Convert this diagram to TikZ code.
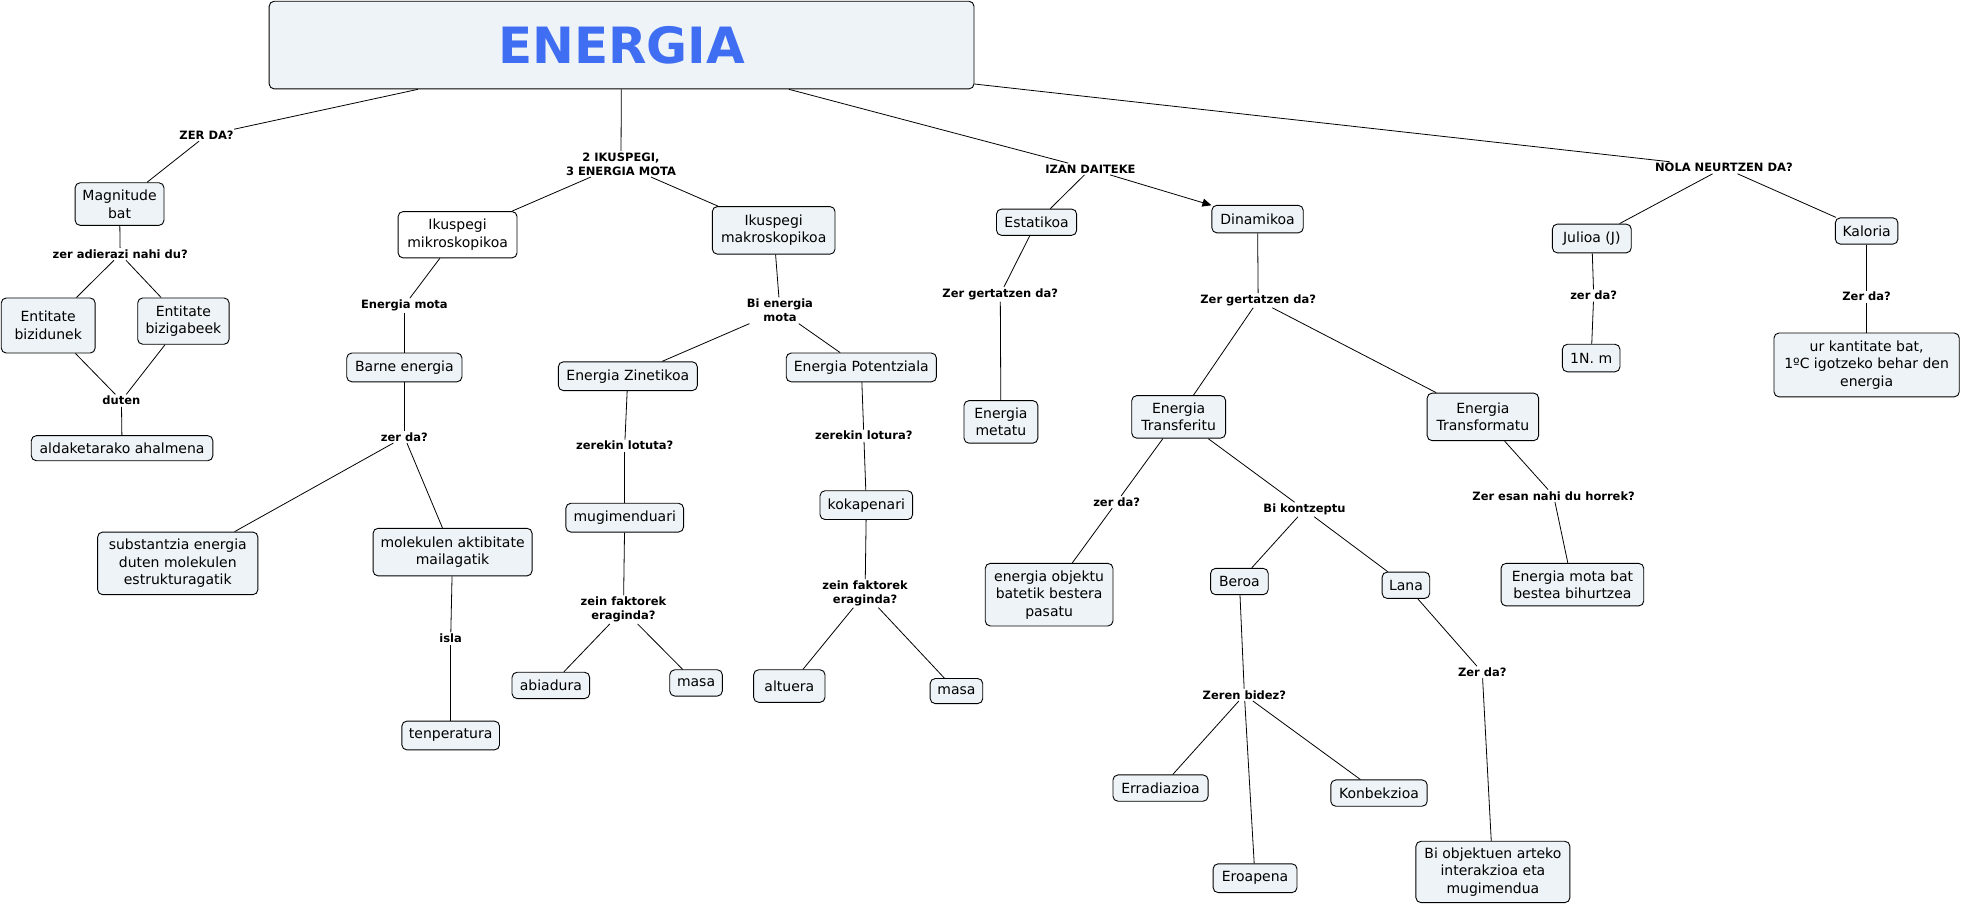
\documentclass[tikz,border=0pt]{standalone}
\usepackage{fontspec}
\setmainfont{DejaVu Sans}
\usetikzlibrary{arrows.meta}
\definecolor{cfill}{HTML}{EDF3F6}
\definecolor{ttl}{HTML}{3F6EF2}
\tikzset{
 concept/.style={draw=black, line width=0.9pt, rounded corners=5pt, fill=cfill, align=center, font=\fontsize{14}{17.5}\selectfont, inner sep=2pt},
 bx/.style 2 args={minimum width=#1*1.252pt, minimum height=#2*1.252pt},
 lbl/.style={align=center, font=\bfseries\fontsize{11.5}{14}\selectfont, inner sep=1.5pt},
 conn/.style={draw=black, line width=0.8pt},
}
\begin{document}
\begin{tikzpicture}[x=1.252pt, y=-1.252pt]
\useasboundingbox (0,0) rectangle (1568,724.5);
% title
\node[concept, bx={563}{70}, font=\bfseries\fontsize{50}{56}\selectfont, text=ttl] (energia) at (496.5,36) {ENERGIA};
% labels
\node[lbl] (l-zerda) at (165,108) {ZER DA?};
\node[lbl] (l-2ik) at (496,131) {2 IKUSPEGI,\\3 ENERGIA MOTA};
\node[lbl] (l-izan) at (871,135) {IZAN DAITEKE};
\node[lbl] (l-nola) at (1377,134) {NOLA NEURTZEN DA?};
\node[lbl] (l-adier) at (96,203) {zer adierazi nahi du?};
\node[lbl] (l-duten) at (97,320) {duten};
\node[lbl] (l-emota) at (323,244) {Energia mota};
\node[lbl] (l-zerda2) at (323,349) {zer da?};
\node[lbl] (l-isla) at (360,510) {isla};
\node[lbl] (l-bien) at (623,248) {Bi energia\\mota};
\node[lbl] (l-lotuta) at (499,356) {zerekin lotuta?};
\node[lbl] (l-fakt1) at (498,487) {zein faktorek\\eraginda?};
\node[lbl] (l-lotura) at (690,348) {zerekin lotura?};
\node[lbl] (l-fakt2) at (691,474) {zein faktorek\\eraginda?};
\node[lbl] (l-gert1) at (799,235) {Zer gertatzen da?};
\node[lbl] (l-gert2) at (1005,240) {Zer gertatzen da?};
\node[lbl] (l-zerda3) at (892,401) {zer da?};
\node[lbl] (l-bikon) at (1042,407) {Bi kontzeptu};
\node[lbl] (l-esan) at (1241,396) {Zer esan nahi du horrek?};
\node[lbl] (l-bidez) at (994,555) {Zeren bidez?};
\node[lbl] (l-zerda4) at (1184,537) {Zer da?};
\node[lbl] (l-zerda5) at (1273,236) {zer da?};
\node[lbl] (l-zerda6) at (1491,237) {Zer da?};
% concepts
\node[concept, bx={71}{34}] (mag) at (95.5,163) {Magnitude\\bat};
\node[concept, bx={75}{44}] (ebiz) at (38.5,260) {Entitate\\bizidunek};
\node[concept, bx={73}{37}] (ebizg) at (146.5,256.5) {Entitate\\bizigabeek};
\node[concept, bx={145}{20}] (alda) at (97.5,358) {aldaketarako ahalmena};
\node[concept, bx={95}{37}, fill=white] (mikro) at (365.5,187.5) {Ikuspegi\\mikroskopikoa};
\node[concept, bx={92}{23}] (barne) at (323,293.5) {Barne energia};
\node[concept, bx={128}{50}] (subst) at (142,450) {substantzia energia\\duten molekulen\\estrukturagatik};
\node[concept, bx={127}{38}] (molek) at (361.5,441) {molekulen aktibitate\\mailagatik};
\node[concept, bx={78}{23}] (tenp) at (360,587.5) {tenperatura};
\node[concept, bx={98}{38}] (makro) at (618,184) {Ikuspegi\\makroskopikoa};
\node[concept, bx={111}{23}] (zine) at (501.5,300.5) {Energia Zinetikoa};
\node[concept, bx={120}{23}] (pot) at (688,293.5) {Energia Potentziala};
\node[concept, bx={94}{23}] (mugi) at (499,413.5) {mugimenduari};
\node[concept, bx={74}{23}] (koka) at (692,403.5) {kokapenari};
\node[concept, bx={62}{21}] (abia) at (440,547.5) {abiadura};
\node[concept, bx={42}{21}] (masa1) at (556,545.5) {masa};
\node[concept, bx={57}{26}] (altu) at (630.5,548) {altuera};
\node[concept, bx={42}{20}] (masa2) at (764,552) {masa};
\node[concept, bx={64}{21}] (esta) at (828,177.5) {Estatikoa};
\node[concept, bx={73}{22}] (dina) at (1004.5,175) {Dinamikoa};
\node[concept, bx={59}{34}] (meta) at (799.5,337) {Energia\\metatu};
\node[concept, bx={75}{34}] (trsf) at (941.5,333) {Energia\\Transferitu};
\node[concept, bx={89}{38}] (trfm) at (1184.5,333) {Energia\\Transformatu};
\node[concept, bx={102}{50}] (eobj) at (838,475) {energia objektu\\batetik bestera\\pasatu};
\node[concept, bx={46}{21}] (bero) at (990,464.5) {Beroa};
\node[concept, bx={38}{21}] (lana) at (1123,467.5) {Lana};
\node[concept, bx={114}{34}] (emb) at (1256,467) {Energia mota bat\\bestea bihurtzea};
\node[concept, bx={76}{21}] (erra) at (927,629.5) {Erradiazioa};
\node[concept, bx={77}{21}] (konb) at (1101.5,633.5) {Konbekzioa};
\node[concept, bx={67}{23}] (eroa) at (1002.5,701.5) {Eroapena};
\node[concept, bx={123}{49}] (biobj) at (1192.5,696.5) {Bi objektuen arteko\\interakzioa eta\\mugimendua};
\node[concept, bx={63}{23}] (jul) at (1271.5,190.5) {Julioa (J)};
\node[concept, bx={50}{21}] (kal) at (1491,184.5) {Kaloria};
\node[concept, bx={46}{22}] (nm) at (1271,286) {1N. m};
\node[concept, bx={148}{51}] (ur) at (1491,291.5) {ur kantitate bat,\\1ºC igotzeko behar den\\energia};
% connectors
\draw[conn] (energia) -- (l-zerda);
\draw[conn] (l-zerda) -- (mag);
\draw[conn] (energia) -- (l-2ik);
\draw[conn] (l-2ik) -- (mikro);
\draw[conn] (l-2ik) -- (makro);
\draw[conn] (energia) -- (l-izan);
\draw[conn] (l-izan) -- (esta);
\draw[conn, -{Triangle[length=9pt,width=8pt]}] (l-izan) -- (dina);
\draw[conn] (energia) -- (l-nola);
\draw[conn] (l-nola) -- (jul);
\draw[conn] (l-nola) -- (kal);
\draw[conn] (mag) -- (l-adier);
\draw[conn] (l-adier) -- (ebiz);
\draw[conn] (l-adier) -- (ebizg);
\draw[conn] (ebiz) -- (l-duten);
\draw[conn] (ebizg) -- (l-duten);
\draw[conn] (l-duten) -- (alda);
\draw[conn] (mikro) -- (l-emota);
\draw[conn] (l-emota) -- (barne);
\draw[conn] (barne) -- (l-zerda2);
\draw[conn] (l-zerda2) -- (subst);
\draw[conn] (l-zerda2) -- (molek);
\draw[conn] (molek) -- (l-isla);
\draw[conn] (l-isla) -- (tenp);
\draw[conn] (makro) -- (l-bien);
\draw[conn] (l-bien) -- (zine);
\draw[conn] (l-bien) -- (pot);
\draw[conn] (zine) -- (l-lotuta);
\draw[conn] (l-lotuta) -- (mugi);
\draw[conn] (mugi) -- (l-fakt1);
\draw[conn] (l-fakt1) -- (abia);
\draw[conn] (l-fakt1) -- (masa1);
\draw[conn] (pot) -- (l-lotura);
\draw[conn] (l-lotura) -- (koka);
\draw[conn] (koka) -- (l-fakt2);
\draw[conn] (l-fakt2) -- (altu);
\draw[conn] (l-fakt2) -- (masa2);
\draw[conn] (esta) -- (l-gert1);
\draw[conn] (l-gert1) -- (meta);
\draw[conn] (dina) -- (l-gert2);
\draw[conn] (l-gert2) -- (trsf);
\draw[conn] (l-gert2) -- (trfm);
\draw[conn] (trsf) -- (l-zerda3);
\draw[conn] (l-zerda3) -- (eobj);
\draw[conn] (trsf) -- (l-bikon);
\draw[conn] (l-bikon) -- (bero);
\draw[conn] (l-bikon) -- (lana);
\draw[conn] (trfm) -- (l-esan);
\draw[conn] (l-esan) -- (emb);
\draw[conn] (bero) -- (l-bidez);
\draw[conn] (l-bidez) -- (erra);
\draw[conn] (l-bidez) -- (konb);
\draw[conn] (l-bidez) -- (eroa);
\draw[conn] (lana) -- (l-zerda4);
\draw[conn] (l-zerda4) -- (biobj);
\draw[conn] (jul) -- (l-zerda5);
\draw[conn] (l-zerda5) -- (nm);
\draw[conn] (kal) -- (l-zerda6);
\draw[conn] (l-zerda6) -- (ur);
\end{tikzpicture}
\end{document}
